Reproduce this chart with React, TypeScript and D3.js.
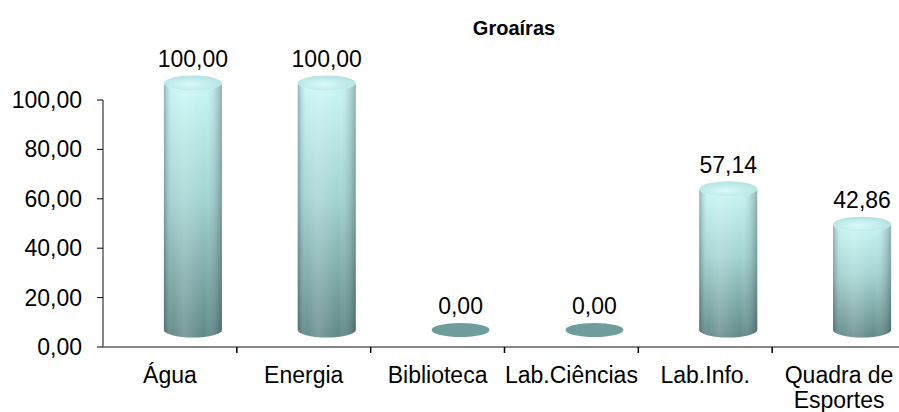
import { useEffect, useRef } from 'react';
import * as d3 from 'd3';

const categories = ['Água', 'Energia', 'Biblioteca', 'Lab.Ciências', 'Lab.Info.', 'Quadra de Esportes'];
const values = [100, 100, 0, 0, 57.14, 42.86];
const yTicks = [0, 20, 40, 60, 80, 100];
const title = 'Groaíras';

const fmt = (v: number) => v.toFixed(2).replace('.', ',');

export default function App() {
  const svgRef = useRef<SVGSVGElement>(null);

  useEffect(() => {
    if (!svgRef.current) return;
    const svg = d3.select(svgRef.current);
    svg.selectAll('*').remove();

    const width = 899;
    const plot = { left: 103, right: 906, top: 100, bottom: 347 };
    // 3D depth shift of the cylinders
    const depth = { dx: 23, dy: -17 };
    const font = 'Liberation Sans, Arial, sans-serif';
    const fontSize = 23;

    const x = d3.scaleBand<string>().domain(categories).range([plot.left, plot.right]);
    const y = d3.scaleLinear().domain([0, 100]).range([plot.bottom, plot.top]);

    const defs = svg.append('defs');
    const vert = defs.append('linearGradient').attr('id', 'cyl-v')
      .attr('x1', 0).attr('y1', 0).attr('x2', 0).attr('y2', 1);
    vert.append('stop').attr('offset', '0%').attr('stop-color', '#c9f6f6');
    vert.append('stop').attr('offset', '45%').attr('stop-color', '#a3d3d2');
    vert.append('stop').attr('offset', '100%').attr('stop-color', '#5f8887');

    const horiz = defs.append('linearGradient').attr('id', 'cyl-h')
      .attr('x1', 0).attr('y1', 0).attr('x2', 1).attr('y2', 0);
    horiz.append('stop').attr('offset', '0%').attr('stop-color', '#1d3636').attr('stop-opacity', 0.35);
    horiz.append('stop').attr('offset', '15%').attr('stop-color', '#ffffff').attr('stop-opacity', 0.05);
    horiz.append('stop').attr('offset', '35%').attr('stop-color', '#ffffff').attr('stop-opacity', 0.18);
    horiz.append('stop').attr('offset', '70%').attr('stop-color', '#ffffff').attr('stop-opacity', 0.0);
    horiz.append('stop').attr('offset', '100%').attr('stop-color', '#1d3636').attr('stop-opacity', 0.35);

    const capGrad = defs.append('radialGradient').attr('id', 'cyl-cap')
      .attr('cx', '45%').attr('cy', '60%').attr('r', '60%');
    capGrad.append('stop').attr('offset', '0%').attr('stop-color', '#d9fafa');
    capGrad.append('stop').attr('offset', '100%').attr('stop-color', '#b2e2e1');

    const rx = 29;
    const ry = 7.5;

    const g = svg.append('g');

    categories.forEach((c, i) => {
      const v = values[i];
      const cx = (x(c) as number) + x.bandwidth() / 2 + depth.dx;
      const yb = y(0) + depth.dy;
      const yt = y(v) + depth.dy;

      if (v <= 0) {
        g.append('ellipse')
          .attr('cx', cx).attr('cy', yb)
          .attr('rx', rx).attr('ry', ry - 0.5)
          .attr('fill', '#6f9d9b');
      } else {
        const body = `M${cx - rx},${yt} L${cx - rx},${yb} A${rx},${ry} 0 0 0 ${cx + rx},${yb} L${cx + rx},${yt} A${rx},${ry} 0 0 1 ${cx - rx},${yt} Z`;
        g.append('path').attr('d', body).attr('fill', 'url(#cyl-v)');
        g.append('path').attr('d', body).attr('fill', 'url(#cyl-h)');
        g.append('ellipse')
          .attr('cx', cx).attr('cy', yt)
          .attr('rx', rx).attr('ry', ry)
          .attr('fill', 'url(#cyl-cap)');
      }

      g.append('text')
        .attr('x', cx)
        .attr('y', y(v) - 33)
        .attr('text-anchor', 'middle')
        .attr('font-family', font)
        .attr('font-size', fontSize)
        .attr('fill', '#000')
        .text(fmt(v));
    });

    // Axes
    const axisColor = '#868686';
    svg.append('line')
      .attr('x1', plot.left).attr('x2', plot.left)
      .attr('y1', y(100)).attr('y2', y(0))
      .attr('stroke', axisColor).attr('stroke-width', 2);
    svg.append('line')
      .attr('x1', plot.left).attr('x2', width)
      .attr('y1', y(0)).attr('y2', y(0))
      .attr('stroke', axisColor).attr('stroke-width', 2);

    yTicks.forEach((t) => {
      svg.append('line')
        .attr('x1', plot.left - 6).attr('x2', plot.left)
        .attr('y1', y(t)).attr('y2', y(t))
        .attr('stroke', '#000').attr('stroke-width', 1);
      svg.append('text')
        .attr('x', plot.left - 21)
        .attr('y', y(t) + 8)
        .attr('text-anchor', 'end')
        .attr('font-family', font)
        .attr('font-size', fontSize)
        .text(fmt(t));
    });

    categories.forEach((c, i) => {
      const x0 = x(c) as number;
      if (i > 0) {
        svg.append('line')
          .attr('x1', x0).attr('x2', x0)
          .attr('y1', y(0)).attr('y2', y(0) + 6)
          .attr('stroke', '#000').attr('stroke-width', 1.5);
      }
      const words = c === 'Quadra de Esportes' ? ['Quadra de', 'Esportes'] : [c];
      const t = svg.append('text')
        .attr('text-anchor', 'middle')
        .attr('font-family', font)
        .attr('font-size', fontSize);
      words.forEach((w, k) => {
        t.append('tspan')
          .attr('x', x0 + x.bandwidth() / 2)
          .attr('y', 383 + k * 25)
          .text(w);
      });
    });

    svg.append('text')
      .attr('x', 514)
      .attr('y', 35)
      .attr('text-anchor', 'middle')
      .attr('font-family', font)
      .attr('font-weight', 'bold')
      .attr('font-size', 20)
      .text(title);
  }, []);

  return (
    <svg
      ref={svgRef}
      width={899}
      height={412}
      style={{ position: 'absolute', left: 0, top: 0, background: '#fff' }}
    />
  );
}
